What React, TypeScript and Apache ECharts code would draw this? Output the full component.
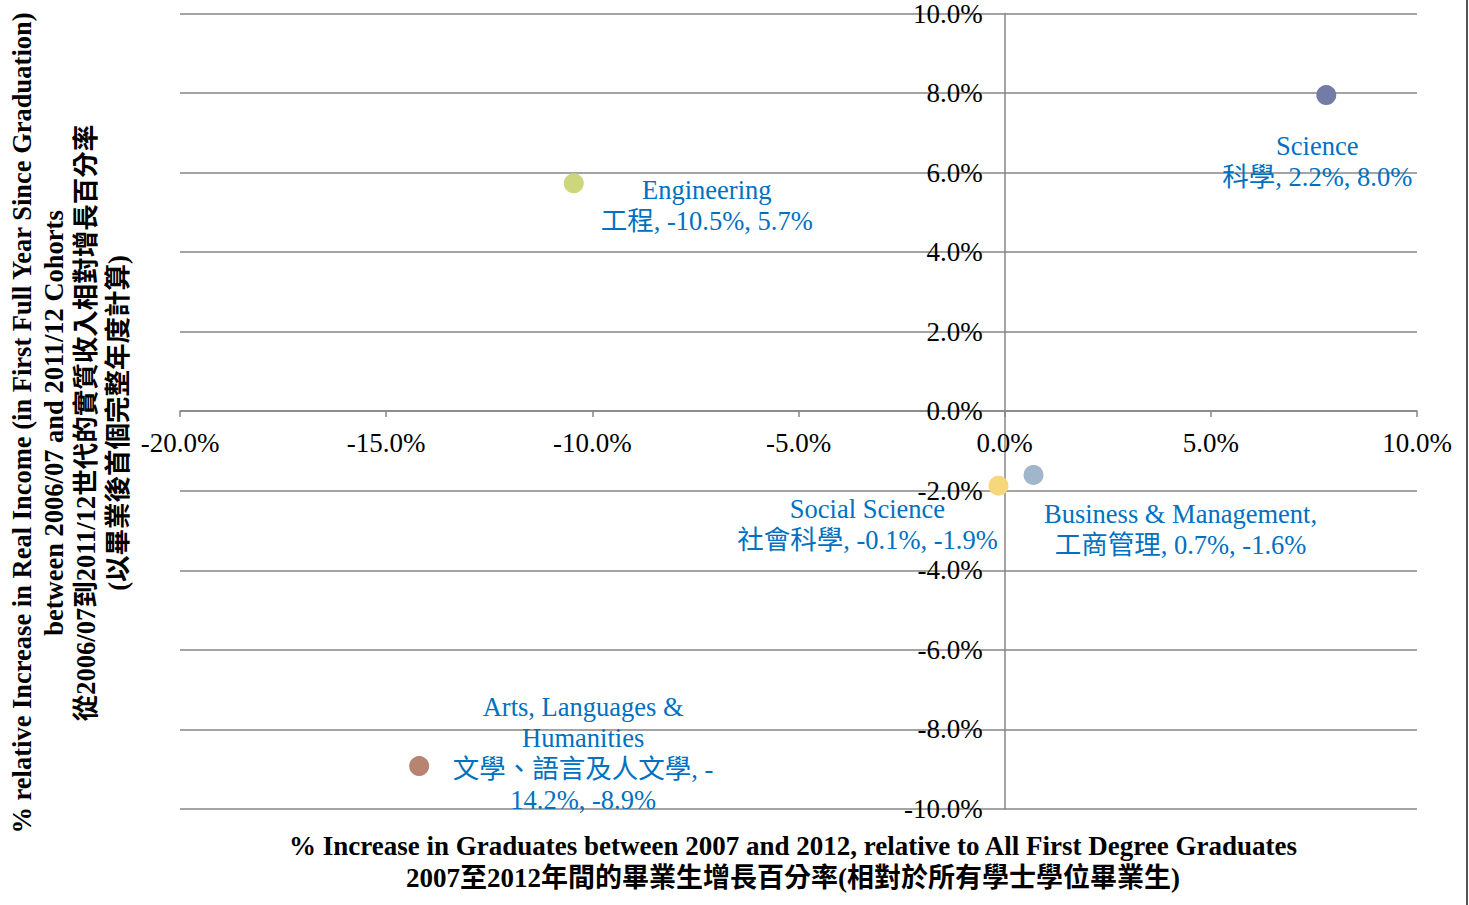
import React, { useEffect, useRef } from "react";
import * as echarts from "echarts";

const categories = ["Engineering", "Science", "Social Science", "Business & Management", "Arts, Languages & Humanities"];
const xValues = [-10.45, 7.8, -0.15, 0.7, -14.2];
const yValues = [5.73, 7.95, -1.87, -1.6, -8.92];
const colors = ["#cdd67a", "#737ca6", "#f7d77c", "#a0b6cb", "#b88472"];
const labelTexts = [
  "Engineering\n工程, -10.5%, 5.7%",
  "Science\n科學, 2.2%, 8.0%",
  "Social Science\n社會科學, -0.1%, -1.9%",
  "Business & Management,\n工商管理, 0.7%, -1.6%",
  "Arts, Languages &\nHumanities\n文學、語言及人文學, -\n14.2%, -8.9%",
];
const labelOffsets = [
  [133, 22],
  [-9, 66],
  [-131, 39],
  [147, 55],
  [164, -13],
];
const xTicks = { min: -20, max: 10, interval: 5 };
const yTicks = { min: -10, max: 10, interval: 2 };
const xTitle = "% Increase in Graduates between 2007 and 2012, relative to All First Degree Graduates\n2007至2012年間的畢業生增長百分率(相對於所有學士學位畢業生)";
const yTitle = "% relative Increase in Real Income (in First Full Year Since Graduation)\nbetween 2006/07 and 2011/12 Cohorts\n從2006/07到2011/12世代的實質收入相對增長百分率\n(以畢業後首個完整年度計算)";

const FONT = "'Liberation Serif', 'Noto Sans CJK TC', serif";
const W = 1469;
const H = 905;
const GRID = { left: 180, right: 52, top: 13, bottom: 96 };

export default function App() {
  const ref = useRef<HTMLDivElement>(null);
  useEffect(() => {
    document.body.style.margin = "0";
    const chart = echarts.init(ref.current!, null, { renderer: "svg" });
    const gw = W - GRID.left - GRID.right;
    const gh = H - GRID.top - GRID.bottom;
    // shift axes so they cross at (0, 0)
    const yAxisOffset = -gw * (0 - xTicks.min) / (xTicks.max - xTicks.min);
    const xAxisOffset = -gh * (0 - yTicks.min) / (yTicks.max - yTicks.min);
    chart.setOption({
      animation: false,
      backgroundColor: "#ffffff",
      grid: { ...GRID, containLabel: false },
      xAxis: {
        type: "value",
        position: "bottom",
        offset: xAxisOffset,
        min: xTicks.min,
        max: xTicks.max,
        interval: xTicks.interval,
        axisLine: { onZero: false, lineStyle: { color: "#868686", width: 1.5 } },
        axisTick: { show: true, length: 6, lineStyle: { color: "#868686", width: 1.5 } },
        splitLine: { show: false },
        axisLabel: {
          color: "#000",
          fontFamily: FONT,
          fontSize: 27,
          margin: 18,
          formatter: (v: number) => v.toFixed(1) + "%",
        },
      },
      yAxis: {
        type: "value",
        position: "left",
        offset: yAxisOffset,
        min: yTicks.min,
        max: yTicks.max,
        interval: yTicks.interval,
        axisLine: { show: true, onZero: false, lineStyle: { color: "#868686", width: 1.5 } },
        axisTick: { show: false },
        splitLine: { show: true, lineStyle: { color: "#868686", width: 1.5 } },
        axisLabel: {
          color: "#000",
          fontFamily: FONT,
          fontSize: 27,
          margin: 22,
          formatter: (v: number) => v.toFixed(1) + "%",
        },
      },
      series: [
        {
          type: "scatter",
          symbolSize: 20,
          itemStyle: { opacity: 1 },
          data: categories.map((c, i) => ({
            name: c,
            value: [xValues[i], yValues[i]],
            itemStyle: { color: colors[i], opacity: 1 },
            label: {
              show: true,
              position: "inside",
              offset: labelOffsets[i],
              formatter: labelTexts[i],
              color: "#0070c0",
              fontFamily: FONT,
              fontSize: 26.5,
              lineHeight: 31,
              align: "center",
              verticalAlign: "middle",
            },
          })),
        },
      ],
      graphic: [
        {
          type: "text",
          x: 793,
          y: 862,
          style: {
            text: xTitle,
            fontFamily: FONT,
            fontSize: 27,
            fontWeight: "bold",
            lineHeight: 32,
            fill: "#000",
            align: "center",
            verticalAlign: "middle",
          },
        },
        {
          type: "text",
          x: 70,
          y: 423,
          rotation: Math.PI / 2,
          style: {
            text: yTitle,
            fontFamily: FONT,
            fontSize: 26.5,
            fontWeight: "bold",
            lineHeight: 32,
            fill: "#000",
            align: "center",
            verticalAlign: "middle",
          },
        },
        {
          type: "line",
          shape: { x1: 1467, y1: 0, x2: 1467, y2: 905 },
          style: { stroke: "#555", lineWidth: 2 },
        },
      ],
    });
    return () => chart.dispose();
  }, []);
  return <div ref={ref} style={{ width: W, height: H }} />;
}
